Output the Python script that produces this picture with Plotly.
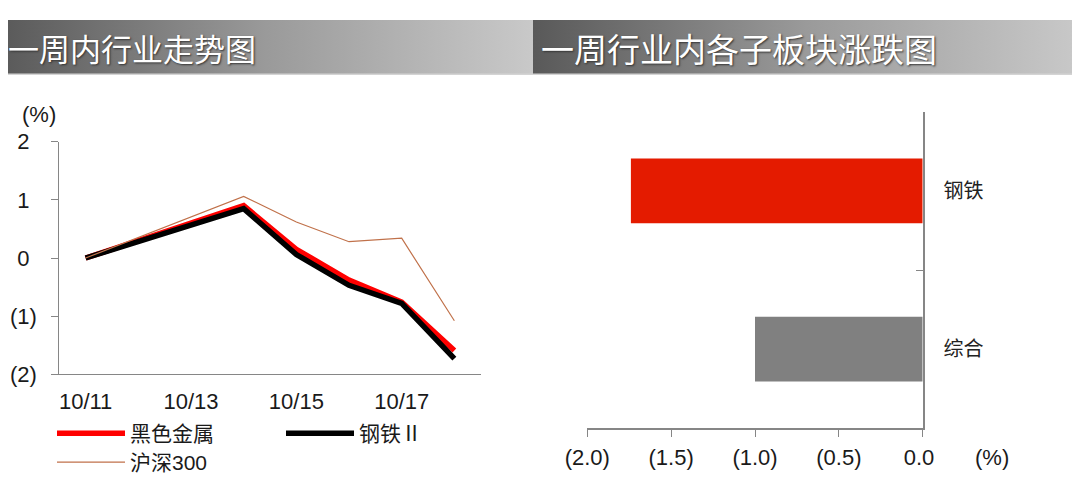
import base64
import plotly.graph_objects as go

# ---------------- data ----------------
DATES = ["2019-10-11", "2019-10-14", "2019-10-15", "2019-10-16", "2019-10-17", "2019-10-18"]
BLACK_METAL = [0.0, 0.90, 0.15, -0.38, -0.76, -1.59]     # 黑色金属
STEEL_II = [0.0, 0.85, 0.06, -0.47, -0.78, -1.73]       # 钢铁Ⅱ
HS300 = [0.0, 1.06, 0.62, 0.28, 0.34, -1.08]            # 沪深300
SERIES_NAMES = ["黑色金属", "钢铁Ⅱ", "沪深300"]

Y_TICK_VALS = [-2, -1, 0, 1, 2]
Y_TICK_TEXT = ["(2)", "(1)", "0", "1", "2"]

SECTORS = ["钢铁", "综合"]
SECTOR_CHANGES = [-1.74, -1.00]
X2_TICK_VALS = [-2.0, -1.5, -1.0, -0.5, 0.0]
X2_TICK_TEXT = ["(2.0)", "(1.5)", "(1.0)", "(0.5)", "0.0"]

TITLE_LEFT = "一周内行业走势图"
TITLE_RIGHT = "一周行业内各子板块涨跌图"

# ---------------- layout helpers ----------------
# the page body has an 8px default margin; the figure fills the rest of the window
OFF = 8
W, H = 1080 - OFF, 494 - OFF
def px(x):
    return (x - OFF) / W
def py(y):
    return 1 - (y - OFF) / H

HIDDEN = "<span style='color:rgba(0,0,0,0)'>)</span>"
def pad(t):
    return t if t.startswith("(") else t + HIDDEN

FONT = "Liberation Sans, Arial, Noto Sans CJK SC, sans-serif"
CJK = "Noto Sans CJK SC, sans-serif"
TXT = "#1a1a1a"
AX = "#868686"

def grad_uri(w, h):
    svg = (f'<svg xmlns="http://www.w3.org/2000/svg" width="{w}" height="{h}" '
           f'viewBox="0 0 {w} {h}" preserveAspectRatio="none">'
           '<defs><linearGradient id="g" x1="0" x2="1" y1="0" y2="0">'
           '<stop offset="0" stop-color="#595959"/><stop offset="0.5" stop-color="#9a9a9a"/>'
           '<stop offset="1" stop-color="#c9c9c9"/></linearGradient></defs>'
           f'<rect width="{w}" height="{h}" fill="url(#g)"/>'
           f'<rect y="{h-1.5}" width="{w}" height="1.5" fill="#d4d4d4"/></svg>')
    return "data:image/svg+xml;base64," + base64.b64encode(svg.encode()).decode()

fig = go.Figure()

fig.add_trace(go.Scatter(x=DATES, y=BLACK_METAL, name=SERIES_NAMES[0], mode="lines",
                         line=dict(color="#ff0000", width=5.5), xaxis="x", yaxis="y",
                         legend="legend"))
fig.add_trace(go.Scatter(x=DATES, y=STEEL_II, name=SERIES_NAMES[1], mode="lines",
                         line=dict(color="#000000", width=5.5), xaxis="x", yaxis="y",
                         legend="legend"))
fig.add_trace(go.Scatter(x=DATES, y=HS300, name=SERIES_NAMES[2], mode="lines",
                         line=dict(color="#c0714a", width=1.2), xaxis="x", yaxis="y",
                         legend="legend2"))

fig.add_trace(go.Bar(y=SECTORS, x=SECTOR_CHANGES, orientation="h", width=0.41,
                     marker=dict(color=["#e41b00", "#808080"], line=dict(width=0)),
                     xaxis="x2", yaxis="y2", showlegend=False))

xr = ["2019-10-10 12:00", "2019-10-18 12:00"]
fig.update_layout(
    template="none",
    width=W, height=H,
    margin=dict(l=0, r=0, t=0, b=0, pad=0, autoexpand=False),
    paper_bgcolor="white", plot_bgcolor="rgba(0,0,0,0)",
    font=dict(family=FONT, size=22, color=TXT),
    xaxis=dict(domain=[px(59.3), px(480.7)], anchor="y", type="date", range=xr,
               tick0="2019-10-11", dtick=2 * 86400000, tickformat="%m/%d",
               ticks="", showline=True, linecolor=AX, linewidth=1, showgrid=False,
               zeroline=False, automargin=False,
               ticklabelstandoff=7, tickfont=dict(size=22)),
    xaxis3=dict(domain=[px(59.3), px(480.7)], anchor="y", overlaying="x", type="date",
                range=xr, tick0="2019-10-10 12:00", dtick=2 * 86400000,
                ticks="outside", ticklen=5, tickcolor=AX, showticklabels=False,
                showline=False, showgrid=False, zeroline=False, automargin=False),
    yaxis=dict(domain=[py(374.3), py(141.7)], anchor="x", range=[-2, 2],
               tickvals=Y_TICK_VALS, ticktext=[pad(t) for t in Y_TICK_TEXT],
               ticks="outside", ticklen=7, tickcolor=AX, showline=True, linecolor=AX,
               linewidth=1, showgrid=False, zeroline=False, ticklabelstandoff=10,
               automargin=False, tickfont=dict(size=22)),
    xaxis2=dict(domain=[px(587.3), px(922.7)], anchor="y2", range=[-2, 0],
                tickvals=X2_TICK_VALS, ticktext=[pad(t) for t in X2_TICK_TEXT],
                ticks="outside", ticklen=7, tickcolor=AX, showline=True, linecolor=AX,
                linewidth=1.5, showgrid=False, zeroline=False, ticklabelstandoff=2,
                automargin=False, tickfont=dict(size=22)),
    yaxis2=dict(domain=[py(428.3), py(111.7)], anchor="x2", side="right", type="category",
                categoryorder="array", categoryarray=SECTORS[::-1], range=[-0.5, 1.5],
                tickson="boundaries", ticks="inside", ticklen=7, tickcolor=AX,
                showline=True, linecolor=AX, linewidth=1.5, showgrid=False,
                zeroline=False, automargin=False,
                ticklabelstandoff=15, tickfont=dict(family=CJK, size=20, color="#222")),
    legend=dict(orientation="h", x=px(52), xanchor="left", y=py(413), yanchor="top",
                font=dict(family=FONT, size=21, color=TXT), entrywidth=146,
                itemwidth=68, bgcolor="rgba(0,0,0,0)", traceorder="normal"),
    legend2=dict(orientation="h", x=px(52), xanchor="left", y=py(442), yanchor="top",
                 font=dict(family=FONT, size=21, color=TXT), itemwidth=68,
                 bgcolor="rgba(0,0,0,0)"),
    images=[
        dict(source=grad_uri(533, 55), xref="paper", yref="paper", x=px(0), y=py(20),
             sizex=533 / W, sizey=55 / H, xanchor="left", yanchor="top",
             sizing="stretch", layer="below"),
        dict(source=grad_uri(547, 55), xref="paper", yref="paper", x=px(533), y=py(20),
             sizex=547 / W, sizey=55 / H, xanchor="left", yanchor="top",
             sizing="stretch", layer="below"),
    ],
    annotations=[
        dict(text=TITLE_LEFT, xref="paper", yref="paper", x=px(6), y=py(48),
             xanchor="left", yanchor="middle", showarrow=False,
             font=dict(family=CJK, size=31, color="white", shadow="1px 1px 2px #333")),
        dict(text=TITLE_RIGHT, xref="paper", yref="paper", x=px(539), y=py(48),
             xanchor="left", yanchor="middle", showarrow=False,
             font=dict(family=CJK, size=33, color="white", shadow="1px 1px 2px #333")),
        dict(text="(%)", xref="paper", yref="paper", x=px(38.5), y=py(115),
             xanchor="center", yanchor="middle", showarrow=False, font=dict(size=22)),
        dict(text="(%)", xref="paper", yref="paper", x=px(992), y=py(457),
             xanchor="center", yanchor="middle", showarrow=False, font=dict(size=22)),
    ],
)

fig.write_html("out.html")
